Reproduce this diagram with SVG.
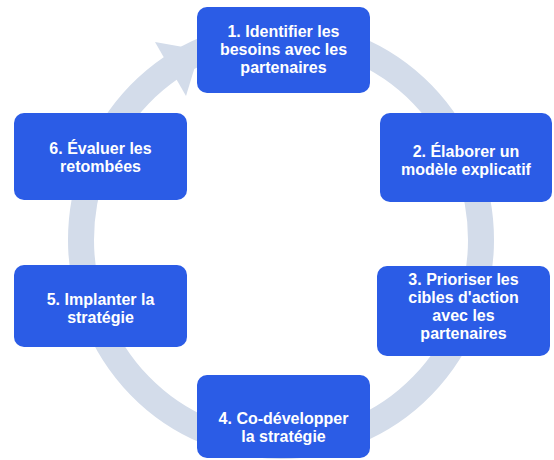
<svg xmlns="http://www.w3.org/2000/svg" width="554" height="460" viewBox="0 0 554 460">
<style>
.box{fill:#2b5ce6}
.t{fill:#ffffff;font-family:"Liberation Sans",Arial,sans-serif;font-weight:700;font-size:16px;text-anchor:middle}
.ring{fill:none;stroke:#d3dcea;stroke-width:26}
</style>
<rect width="554" height="460" fill="#ffffff"/>
<g id="connectors">
<ellipse class="ring" cx="281" cy="240" rx="200" ry="206"/>
<polygon points="155,42 200,50 186,96" fill="#d3dcea"/>
</g>
<g id="n1"><rect class="box" x="197" y="7" width="173" height="86" rx="10"/>
<text class="t" x="283.5" y="37">1. Identifier les</text>
<text class="t" x="283.5" y="55">besoins avec les</text>
<text class="t" x="283.5" y="73">partenaires</text></g>
<g id="n2"><rect class="box" x="380" y="113" width="172" height="89" rx="10"/>
<text class="t" x="466" y="157">2. Élaborer un</text>
<text class="t" x="466" y="175">modèle explicatif</text></g>
<g id="n3"><rect class="box" x="377" y="266" width="173" height="90" rx="10"/>
<text class="t" x="463.5" y="285">3. Prioriser les</text>
<text class="t" x="463.5" y="303">cibles d'action</text>
<text class="t" x="463.5" y="321">avec les</text>
<text class="t" x="463.5" y="339">partenaires</text></g>
<g id="n4"><rect class="box" x="197" y="375" width="173" height="83" rx="10"/>
<text class="t" x="283.5" y="424">4. Co-développer</text>
<text class="t" x="283.5" y="442">la stratégie</text></g>
<g id="n5"><rect class="box" x="14" y="265" width="173" height="82" rx="10"/>
<text class="t" x="100.5" y="305">5. Implanter la</text>
<text class="t" x="100.5" y="323">stratégie</text></g>
<g id="n6"><rect class="box" x="14" y="113" width="173" height="87" rx="10"/>
<text class="t" x="100.5" y="154">6. Évaluer les</text>
<text class="t" x="100.5" y="172">retombées</text></g>
</svg>
